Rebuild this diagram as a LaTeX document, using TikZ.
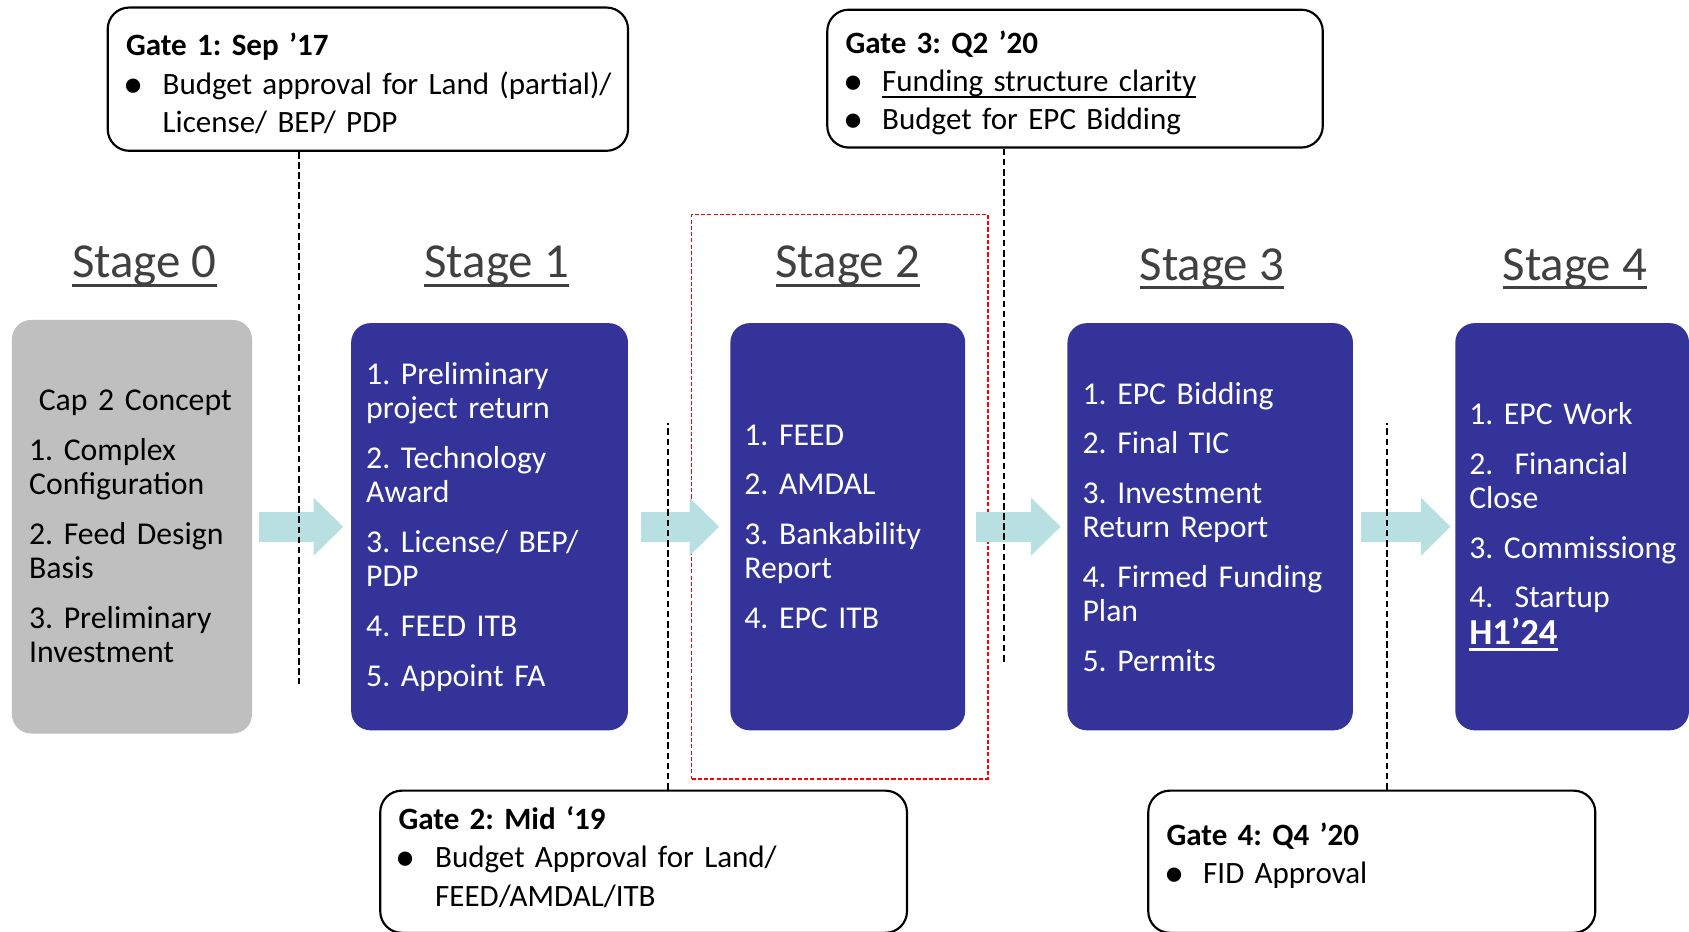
\documentclass[tikz,border=0pt]{standalone}
\usepackage{fontspec}
\setmainfont{Carlito}
\usetikzlibrary{arrows.meta}
\frenchspacing

\definecolor{stageblue}{RGB}{52,51,153}
\definecolor{stagegray}{RGB}{191,191,191}
\definecolor{titlegray}{RGB}{64,64,64}
\definecolor{arrowcyan}{RGB}{184,223,226}

% underline with own depth and thickness
\newcommand{\lineunder}[3]{\leavevmode\setbox0\hbox{#3}\rlap{\rule[#1]{\wd0}{#2}}\box0}
\newcommand{\gbul}{\makebox[17pt][l]{\hspace{-1.2pt}\raisebox{-1.4pt}{\scalebox{1.3}{\textbullet}}}}
\newcommand{\gind}{\hspace*{17pt}}

\tikzset{
  stagebox/.style={rounded corners=9pt, align=left, inner xsep=7pt, inner ysep=0pt,
    minimum height=189pt, text=white, fill=stageblue,
    font=\fontsize{14.75}{16}\selectfont},
  stagetitle/.style={anchor=base, text=titlegray, font=\fontsize{22.7}{26}\selectfont},
  gatebox/.style={draw, line width=1pt, rounded corners=10pt, align=left, inner xsep=8.5pt,
    minimum height=66pt, font=\fontsize{14.4}{17.75}\selectfont},
  gateline/.style={line width=0.9pt, dash pattern=on 3.1pt off 1.6pt},
  stagearrow/.style={line width=13.75pt, draw=arrowcyan,
    -{Triangle[length=13.75pt, width=27pt, line width=0pt]}}
}

\begin{document}
\begin{tikzpicture}[x=0.5pt, y=-0.5pt]
        \useasboundingbox (0,0) rectangle (1568,865);

        %%%%%%%%%% Stages %%%%%%%%%%
        \node[stagetitle] (t0) at (134,258) {\lineunder{-4pt}{1.4pt}{Stage 0}};
        \node[stagetitle] (t1) at (461,258) {\lineunder{-4pt}{1.4pt}{Stage 1}};
        \node[stagetitle] (t2) at (787,258) {\lineunder{-4pt}{1.4pt}{Stage 2}};
        \node[stagetitle] (t3) at (1125,260) {\lineunder{-4pt}{1.4pt}{Stage 3}};
        \node[stagetitle] (t4) at (1462,260) {\lineunder{-4pt}{1.4pt}{Stage 4}};

        \node[stagebox, fill=stagegray, text=black, inner xsep=8pt, minimum height=192pt,
          text width=95.5pt] (s0) at (122.5,489)
          {\hspace*{4.5pt}Cap 2 Concept\\[7pt]
           1. Complex\\ Configuration\\[7pt]
           2. Feed Design\\ Basis\\[7pt]
           3. Preliminary\\ Investment};
        \node[stagebox, text width=114.5pt] (s1) at (454.5,489)
          {1. Preliminary\\ project return\\[7pt]
           2. Technology\\ Award\\[7pt]
           3. License/ BEP/\\ PDP\\[7pt]
           4. FEED ITB\\[7pt]
           5. Appoint FA};
        \node[stagebox, inner xsep=6.5pt, text width=96pt] (s2) at (787,489)
          {1. FEED\\[7pt]
           2. AMDAL\\[7pt]
           3. Bankability\\ Report\\[7pt]
           4. EPC ITB};
        \node[stagebox, text width=118.5pt] (s3) at (1123.5,489)
          {1. EPC Bidding\\[7pt]
           2. Final TIC\\[7pt]
           3. Investment\\ Return Report\\[7pt]
           \mbox{4. Firmed Funding}\\ Plan\\[7pt]
           5. Permits};
        \node[stagebox, inner xsep=6.5pt, text width=95.5pt] (s4) at (1459.5,489)
          {1. EPC Work\\[7pt]
           2.~~Financial\\ Close\\[7pt]
           \mbox{3. Commissiong}\\[7pt]
           4.~~Startup\\[1pt]
           {\fontsize{17}{19}\selectfont\lineunder{-3pt}{1.2pt}{\textbf{H1’24}}}};

        %%%%%%%%%% Focus %%%%%%%%%%
        \node[draw=red, line width=0.7pt, dash pattern=on 1.9pt off 1pt,
          minimum width=137.5pt, minimum height=262pt] (focus) at (779.5,461) {};

        %%%%%%%%%% Frecce %%%%%%%%%%
        \draw[stagearrow] ([xshift=3pt]s0.east) -- ([xshift=-3.5pt]s1.west);
        \draw[stagearrow] ([xshift=6pt]s1.east) -- ([xshift=-5pt]s2.west);
        \draw[stagearrow] ([xshift=5pt]s2.east) -- ([xshift=-3pt]s3.west);
        \draw[stagearrow] ([xshift=3.5pt]s3.east) -- ([xshift=-2pt]s4.west);

        %%%%%%%%%% Gates %%%%%%%%%%
        \node[gatebox, minimum width=241.5pt, minimum height=66.5pt, text width=224.5pt]
          (g1) at (341.5,73.5)
          {\rule{0pt}{14.5pt}\textbf{Gate 1: Sep ’17}\\
           \mbox{\gbul Budget approval for Land (partial)/}\\
           \gind License/ BEP/ PDP};
        \node[gatebox, minimum width=230pt, minimum height=64pt, text width=213pt]
          (g3) at (998,73)
          {\rule{0pt}{14.5pt}\textbf{Gate 3: Q2 ’20}\\
           \gbul\lineunder{-2.8pt}{0.6pt}{Funding structure clarity}\\
           \gbul Budget for EPC Bidding};
        \node[gatebox, minimum width=244.5pt, text width=227.5pt] (g2) at (597.5,800)
          {\textbf{Gate 2: Mid ‘19}\\
           \gbul Budget Approval for Land/\\
           \gind FEED/AMDAL/ITB\rule[-5pt]{0pt}{5pt}};
        \node[gatebox, minimum width=207.5pt, text width=190.5pt] (g4) at (1273.5,800)
          {\textbf{Gate 4: Q4 ’20}\\
           \gbul FID Approval\rule[-7.7pt]{0pt}{7.7pt}};

        \coordinate (g1foot) at (278,635);
        \coordinate (g3foot) at (932,615);
        \coordinate (g2head) at (620,393);
        \coordinate (g4head) at (1288,393);
        \draw[gateline] (g1.south -| g1foot) -- (g1foot);
        \draw[gateline] (g3.south -| g3foot) -- (g3foot);
        \draw[gateline] (g2.north -| g2head) -- (g2head);
        \draw[gateline] (g4.north -| g4head) -- (g4head);
    \end{tikzpicture}
\end{document}
